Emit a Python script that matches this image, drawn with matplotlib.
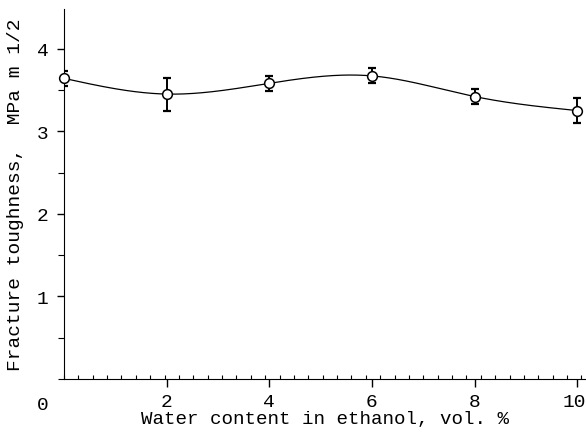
import numpy as np
import matplotlib
matplotlib.use("Agg")
import matplotlib.pyplot as plt
import matplotlib.transforms as mtransforms
from matplotlib.ticker import MultipleLocator

water = [0, 2, 4, 6, 8, 10]
toughness = [3.64, 3.45, 3.58, 3.67, 3.42, 3.25]
err = [0.09, 0.20, 0.09, 0.09, 0.09, 0.15]
xticks = [2, 4, 6, 8, 10]
yticks = [1, 2, 3, 4]

plt.rcParams['font.family'] = ['Liberation Mono', 'DejaVu Sans Mono']

fig = plt.figure(figsize=(5.86, 4.39), dpi=100)
ax = fig.add_axes([64/586, 1-380/439, 1-64/586, (380-10)/439])

# smooth curve through the measured points (natural cubic spline)
x = np.array(water, float); y = np.array(toughness, float)
n = len(x); h = np.diff(x)
A = np.zeros((n, n)); b = np.zeros(n)
A[0, 0] = A[-1, -1] = 1
for i in range(1, n-1):
    A[i, i-1] = h[i-1]; A[i, i] = 2*(h[i-1]+h[i]); A[i, i+1] = h[i]
    b[i] = 3*((y[i+1]-y[i])/h[i] - (y[i]-y[i-1])/h[i-1])
c = np.linalg.solve(A, b)
xs = np.linspace(x[0], x[-1], 400); ys = np.empty_like(xs)
for k, xv in enumerate(xs):
    i = min(np.searchsorted(x, xv, side='right')-1, n-2)
    bi = (y[i+1]-y[i])/h[i] - h[i]*(2*c[i]+c[i+1])/3
    di = (c[i+1]-c[i])/(3*h[i])
    t = xv - x[i]
    ys[k] = y[i] + bi*t + c[i]*t**2 + di*t**3
ax.plot(xs, ys, color='black', lw=0.9, zorder=2)

ax.errorbar(water, toughness, yerr=err, fmt='none', ecolor='black',
            elinewidth=1.4, capsize=3.2, capthick=1.6, zorder=3)
ax.plot(water, toughness, 'o', mfc='white', mec='black', mew=1.1, ms=7, zorder=4, clip_on=False)

ax.set_xlim(0, 10.17)
ax.set_ylim(0, 4.48)
ax.spines['top'].set_visible(False)
ax.spines['right'].set_visible(False)
ax.set_xticks(xticks)
ax.set_xticklabels([str(v) for v in xticks])
ax.set_yticks(yticks)
ax.set_yticklabels([str(v) for v in yticks])
ax.xaxis.set_minor_locator(MultipleLocator(0.28))
ax.yaxis.set_minor_locator(MultipleLocator(0.5))
ax.tick_params(axis='x', which='major', direction='out', length=6, width=1, labelsize=14, pad=4)
ax.tick_params(axis='x', which='minor', direction='in', length=3, width=0.8)
ax.tick_params(axis='y', which='major', direction='out', length=5, width=1, labelsize=14, pad=6)
ax.tick_params(axis='y', which='minor', direction='out', length=4, width=0.8)
last = ax.get_xticklabels()[-1]
last.set_transform(last.get_transform() + mtransforms.ScaledTranslation(-3/100, 0, fig.dpi_scale_trans))
ax.text(-0.03, -0.045, '0', transform=ax.transAxes, fontsize=14, ha='right', va='top')
ax.set_xlabel('Water content in ethanol, vol. %', fontsize=13.8, labelpad=0)
ax.set_ylabel('Fracture toughness,  MPa m 1/2', fontsize=14, labelpad=9)

fig.savefig('out.png', dpi=100)
